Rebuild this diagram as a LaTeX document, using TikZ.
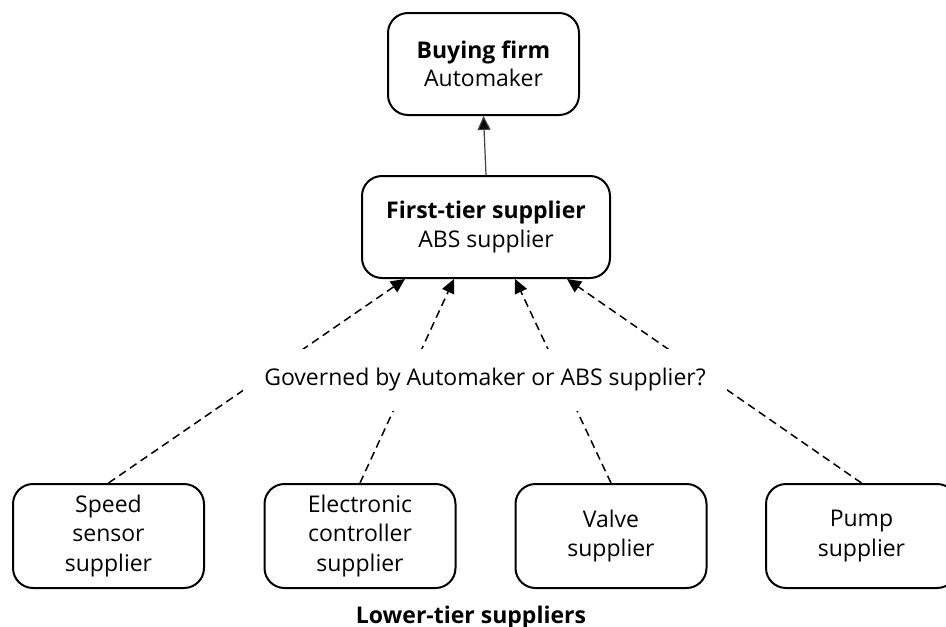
\documentclass[tikz,border=0pt]{standalone}
\usepackage{fontspec}
\setmainfont{Open Sans}
\usetikzlibrary{arrows.meta,calc}
\begin{document}
\begin{tikzpicture}[x=1pt,y=-1pt,
  box/.style={draw, line width=2pt, rounded corners=20pt, align=center, inner sep=0pt,
    font=\fontsize{23}{29.5}\selectfont},
  topbox/.style={box, font=\fontsize{23}{28.5}\selectfont},
  dasharrow/.style={line width=1.5pt, dash pattern=on 8pt off 5pt, -{Triangle[length=14pt,width=13pt]}},
  solidarrow/.style={line width=1.2pt, draw=black!75, -{Triangle[length=14pt,width=13pt,fill=black]}}
]
\useasboundingbox (0,0) rectangle (946,627);
\node[topbox, minimum width=191pt, minimum height=102pt] (buy) at (483.5,64) {\textbf{Buying firm}\\Automaker};
\node[topbox, minimum width=248pt, minimum height=102pt] (mid) at (486,227) {\textbf{First-tier supplier}\\ABS supplier};
\node[box, minimum width=191pt, minimum height=104pt] (b1) at (108.5,536) {Speed\\sensor\\supplier};
\node[box, minimum width=191pt, minimum height=104pt] (b2) at (360,536) {Electronic\\controller\\supplier};
\node[box, minimum width=191pt, minimum height=104pt] (b3) at (611,536) {Valve\\supplier};
\node[box, minimum width=191pt, minimum height=104pt] (b4) at (861.5,536) {Pump\\supplier};
\draw[solidarrow] (mid.north) -- (buy.south);
\draw[dasharrow] (b1.north) -- ($(mid.south)+(-81,0)$);
\draw[dasharrow] (b2.north) -- ($(mid.south)+(-32,0)$);
\draw[dasharrow] (b3.north) -- ($(mid.south)+(29,0)$);
\draw[dasharrow] (b4.north) -- ($(mid.south)+(81,0)$);
\node[fill=white, minimum width=484pt, minimum height=62pt, inner sep=0pt, font=\fontsize{23}{28}\selectfont] (gov) at (485,380) {Governed by Automaker or ABS supplier?};
\node[font=\fontsize{23}{28}\selectfont\bfseries, anchor=base] (low) at (471,623) {Lower-tier suppliers};
\end{tikzpicture}
\end{document}
